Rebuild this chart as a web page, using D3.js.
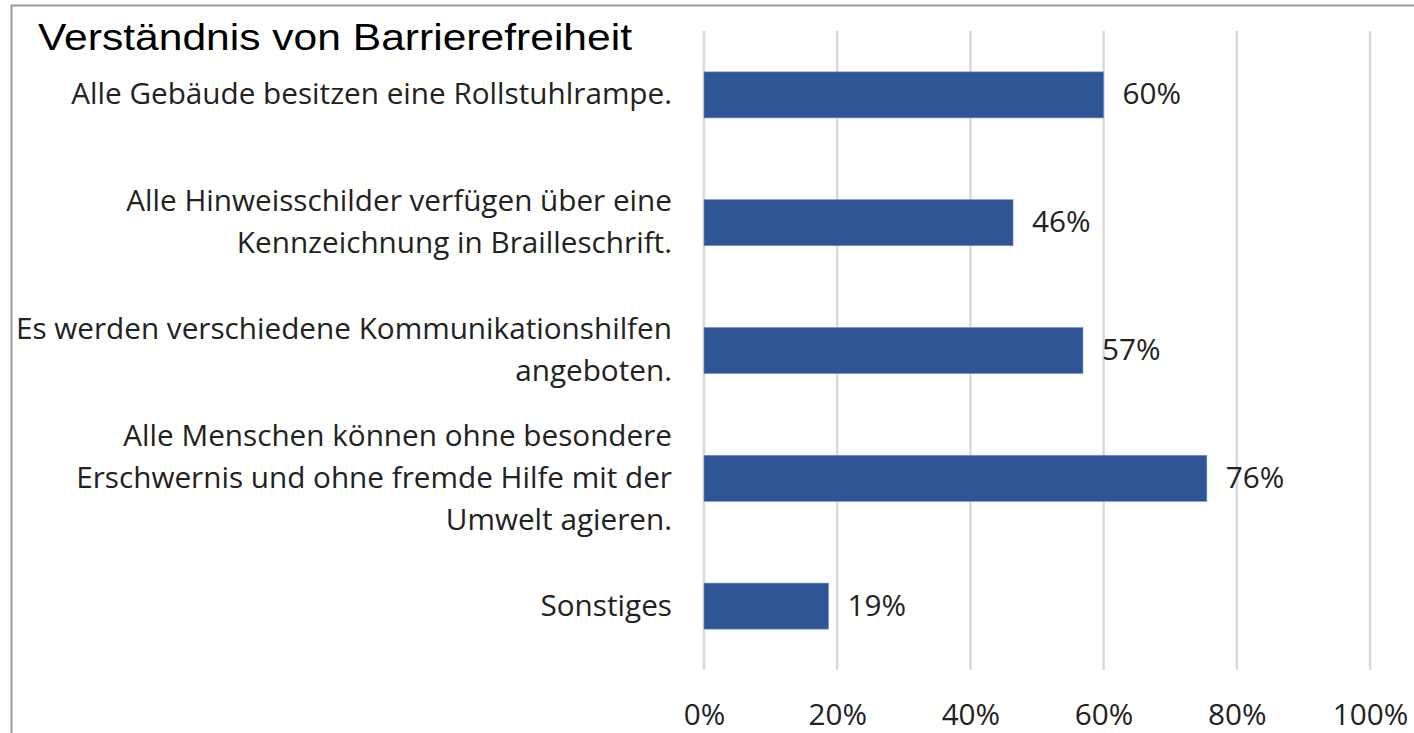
<!DOCTYPE html>
<html>
<head>
<meta charset="utf-8">
<script src="https://cdn.jsdelivr.net/npm/d3@7"></script>
<style>
  body { margin: 0; background: #fff; }
  svg { display: block; }
</style>
</head>
<body>
<div id="chart"></div>
<script>
// Verständnis von Barrierefreiheit - horizontal bars

const categories = [
  ["Alle Gebäude besitzen eine Rollstuhlrampe."],
  ["Alle Hinweisschilder verfügen über eine", "Kennzeichnung in Brailleschrift."],
  ["Es werden verschiedene Kommunikationshilfen", "angeboten."],
  ["Alle Menschen können ohne besondere", "Erschwernis und ohne fremde Hilfe mit der", "Umwelt agieren."],
  ["Sonstiges"]
];
const values = [0.60, 0.464, 0.569, 0.755, 0.187];
const ticks = [0, 0.2, 0.4, 0.6, 0.8, 1.0];

const width = 1414,
    height = 733,
    margin = ({ top: 31, right: 44, bottom: 63, left: 704 });

const font = "'Open Sans', sans-serif",
    fontSize = 29.7;

const svg = d3.select("#chart")
  .append("svg")
  .attr("width", width)
  .attr("height", height);

// outer frame (only top and left edges are visible)
svg.append("path")
  .attr("d", `M11.5,${height} V5.5 H${width}`)
  .attr("fill", "none")
  .attr("stroke", "#9a9a9a")
  .attr("stroke-width", 2);

const x = d3.scaleLinear()
  .domain([0, 1])
  .range([margin.left, width - margin.right]);

const y = d3.scaleBand()
  .domain(d3.range(values.length))
  .range([margin.top, height - margin.bottom])
  .paddingInner(0.64)
  .paddingOuter(0.32);

// gridlines
svg.append("g")
  .selectAll("line")
  .data(ticks)
  .join("line")
  .attr("x1", d => x(d))
  .attr("x2", d => x(d))
  .attr("y1", margin.top)
  .attr("y2", height - margin.bottom)
  .attr("stroke", "#d9d9d9")
  .attr("stroke-width", 2.5);

// x axis labels
const xAxis = svg.append("g")
  .attr("transform", `translate(0,${height - 8})`)
  .call(d3.axisBottom(x).tickValues(ticks).tickFormat(d3.format(".0%")).tickSize(0));
xAxis.select(".domain").remove();
xAxis.selectAll("text")
  .attr("dy", 0)
  .attr("y", 0)
  .attr("font-family", font)
  .attr("font-size", fontSize)
  .attr("fill", "#222");

// bars
svg.append("g")
  .selectAll("rect")
  .data(values)
  .join("rect")
  .attr("x", x(0))
  .attr("y", (d, i) => y(i))
  .attr("width", d => x(d) - x(0))
  .attr("height", y.bandwidth())
  .attr("fill", "#2f5597")
  .attr("stroke", "#6f8fc6")
  .attr("stroke-width", 0.6);

// value labels
svg.append("g")
  .selectAll("text")
  .data(values)
  .join("text")
  .attr("x", d => x(d) + 19)
  .attr("y", (d, i) => y(i) + y.bandwidth() / 2)
  .attr("dy", "0.32em")
  .attr("font-family", font)
  .attr("font-size", fontSize)
  .attr("fill", "#222")
  .text(d => d3.format(".0%")(d));

// category labels (multi-line, right aligned)
const lineH = 42;
const cat = svg.append("g")
  .selectAll("text")
  .data(categories)
  .join("text")
  .attr("text-anchor", "end")
  .attr("font-family", font)
  .attr("font-size", fontSize)
  .attr("fill", "#222");

cat.selectAll("tspan")
  .data((d, i) => d.map((t, j) => ({ t, j, n: d.length, i })))
  .join("tspan")
  .attr("x", 672)
  .attr("y", d => y(d.i) + y.bandwidth() / 2 + (d.j - (d.n - 1) / 2) * lineH)
  .attr("dy", "0.32em")
  .text(d => d.t);

// title
svg.append("text")
  .attr("x", 38)
  .attr("y", 50)
  .attr("font-family", "'Liberation Sans', Arial, sans-serif")
  .attr("font-size", 37)
  .attr("textLength", 594)
  .attr("lengthAdjust", "spacingAndGlyphs")
  .attr("fill", "#000")
  .text("Verständnis von Barrierefreiheit");
</script>
</body>
</html>
